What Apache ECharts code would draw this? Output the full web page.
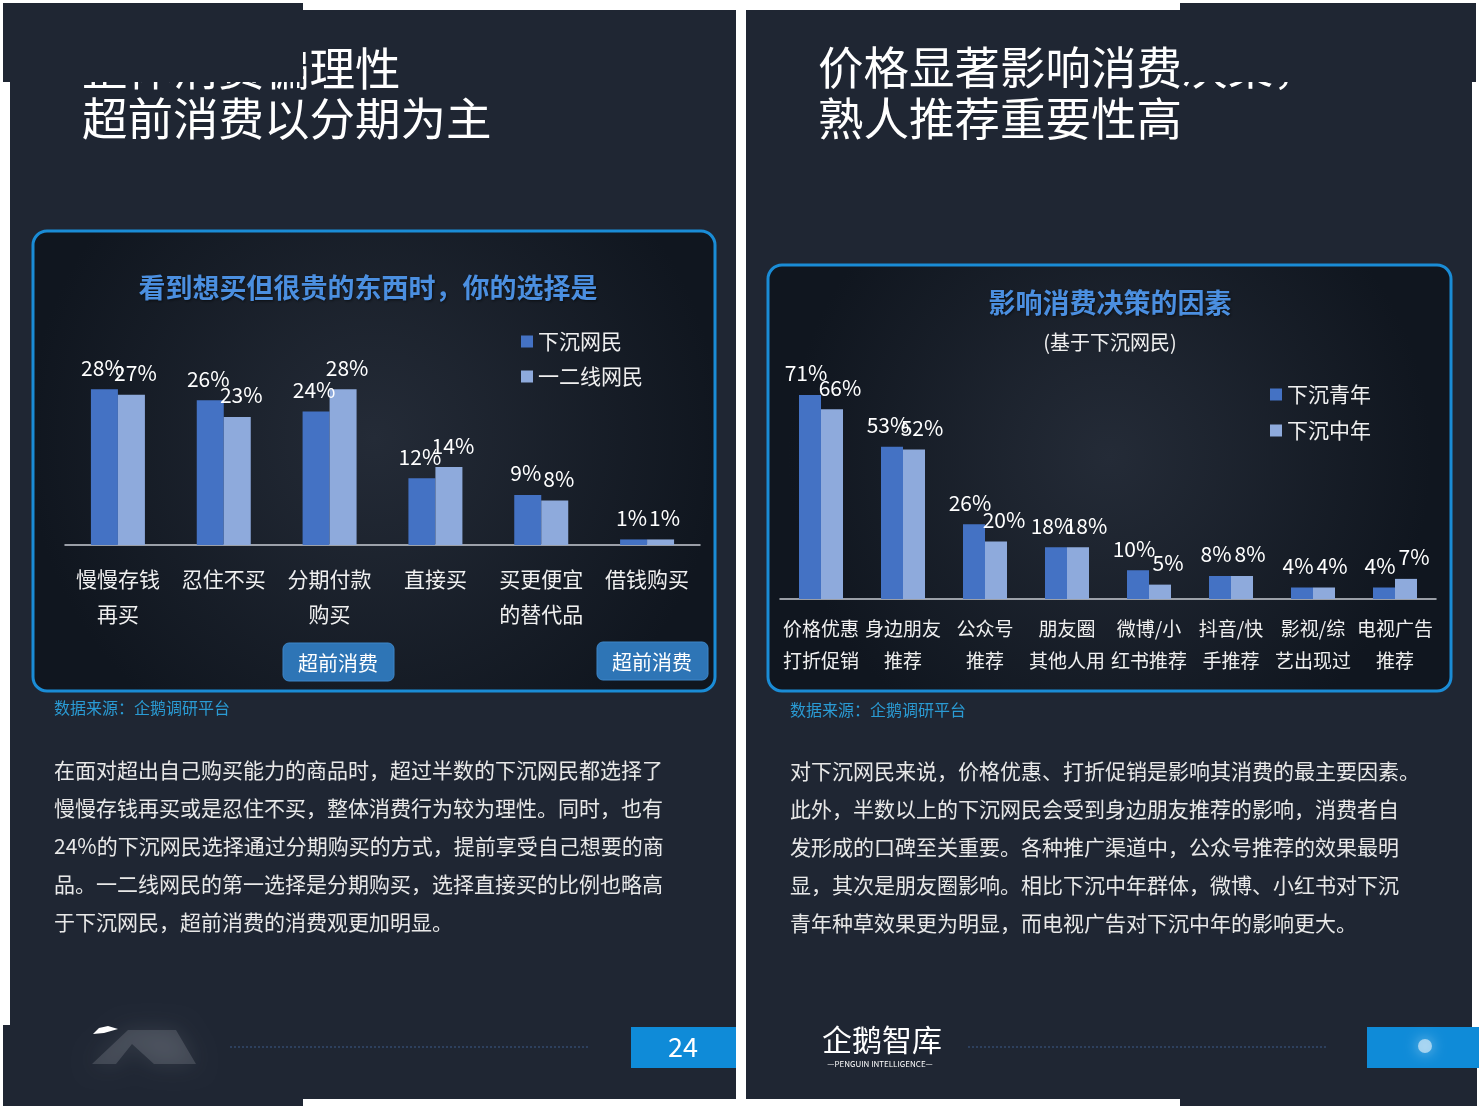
<!DOCTYPE html>
<html><head><meta charset="utf-8">
<script src="https://cdn.jsdelivr.net/npm/echarts/dist/echarts.min.js"></script>
<style>html,body{margin:0;padding:0;background:#fff}#c{width:1482px;height:1109px}</style>
</head><body><div id="c"></div>
<script>
// ---- data ----
const leftCategories = ['慢慢存钱\n再买', '忍住不买', '分期付款\n购买', '直接买', '买更便宜\n的替代品', '借钱购买'];
const leftSeriesNames = ['下沉网民', '一二线网民'];
const leftLowerTier = [28, 26, 24, 12, 9, 1];
const leftUpperTier = [27, 23, 28, 14, 8, 1];

const rightCategories = ['价格优惠\n打折促销', '身边朋友\n推荐', '公众号\n推荐', '朋友圈\n其他人用', '微博/小\n红书推荐', '抖音/快\n手推荐', '影视/综\n艺出现过', '电视广告\n推荐'];
const rightSeriesNames = ['下沉青年', '下沉中年'];
const rightYoung = [71, 53, 26, 18, 10, 8, 4, 4];
const rightMiddle = [66, 52, 20, 18, 5, 8, 4, 7];

// ---- texts ----
const leftTitle = ['整体消费偏理性', '超前消费以分期为主'];
const rightTitle = ['价格显著影响消费决策，', '熟人推荐重要性高'];
const leftChartTitle = '看到想买但很贵的东西时，你的选择是';
const rightChartTitle = '影响消费决策的因素';
const rightChartSubtitle = '(基于下沉网民)';
const sourceText = '数据来源：企鹅调研平台';
const badgeText = '超前消费';
const leftParagraph = [
  '在面对超出自己购买能力的商品时，超过半数的下沉网民都选择了',
  '慢慢存钱再买或是忍住不买，整体消费行为较为理性。同时，也有',
  '24%的下沉网民选择通过分期购买的方式，提前享受自己想要的商',
  '品。一二线网民的第一选择是分期购买，选择直接买的比例也略高',
  '于下沉网民，超前消费的消费观更加明显。'
];
const rightParagraph = [
  '对下沉网民来说，价格优惠、打折促销是影响其消费的最主要因素。',
  '此外，半数以上的下沉网民会受到身边朋友推荐的影响，消费者自',
  '发形成的口碑至关重要。各种推广渠道中，公众号推荐的效果最明',
  '显，其次是朋友圈影响。相比下沉中年群体，微博、小红书对下沉',
  '青年种草效果更为明显，而电视广告对下沉中年的影响更大。'
];
const pageNumber = '24';

const FONT = '"Noto Sans CJK SC", "Noto Sans", sans-serif';
const PANEL = '#1f2633';
const DARK_BAR = '#4472c4';
const LIGHT_BAR = '#8eaadc';

function txt(text, x, y, size, color, opts) {
  opts = opts || {};
  return {
    type: 'text', z: opts.z || 20,
    style: Object.assign({
      text: text, x: x, y: y,
      font: (opts.weight || 'normal') + ' ' + size + 'px ' + FONT,
      fill: color,
      align: opts.align || 'left', textAlign: opts.align || 'left',
      verticalAlign: opts.valign || 'middle', textVerticalAlign: opts.valign || 'middle'
    }, opts.style || {})
  };
}
function rect(x, y, w, h, fill, opts) {
  opts = opts || {};
  return {
    type: 'rect', z: opts.z != null ? opts.z : -20,
    shape: { x: x, y: y, width: w, height: h, r: opts.r || 0 },
    style: Object.assign({ fill: fill }, opts.style || {})
  };
}
const boxFill = {
  type: 'radial', x: 0.5, y: 0.45, r: 0.75,
  colorStops: [{ offset: 0, color: '#242b37' }, { offset: 1, color: '#10161f' }]
};
const titleShadow = { textShadowColor: 'rgba(0,0,0,0.6)', textShadowBlur: 3, textShadowOffsetX: 1, textShadowOffsetY: 1 };

const graphics = [
  // panels
  rect(10, 10, 726, 1089, PANEL),
  rect(3, 1025, 300, 81, PANEL, { z: -19 }),
  rect(746, 10, 726, 1089, PANEL),
  rect(1180, 1030, 297, 76, PANEL, { z: -19 }),
  // chart boxes
  rect(33, 231, 682, 460, boxFill, { z: -10, r: 14, style: { stroke: '#1a8cd6', lineWidth: 3 } }),
  rect(768, 265, 683, 426, boxFill, { z: -10, r: 14, style: { stroke: '#1a8cd6', lineWidth: 3 } }),
  // main titles
  txt(leftTitle[0], 82, 69, 45.5, '#ffffff', { z: 30 }),
  txt(leftTitle[1], 82, 119, 45.5, '#ffffff', { z: 30 }),
  txt(rightTitle[0], 818, 68, 45.5, '#ffffff', { z: 30 }),
  txt(rightTitle[1], 818, 119, 45.5, '#ffffff', { z: 30 }),
  // covering blocks
  rect(3, 3, 300, 79, PANEL, { z: 50 }),
  rect(1180, 3, 296, 79, PANEL, { z: 50 }),
  // chart titles
  txt(leftChartTitle, 368, 288, 27, '#4b8fe0', { weight: 'bold', align: 'center', style: titleShadow }),
  txt(rightChartTitle, 1110, 303, 27, '#4b8fe0', { weight: 'bold', align: 'center', style: titleShadow }),
  txt(rightChartSubtitle, 1110, 342, 20, '#f0f0f0', { align: 'center' }),
  // badges
  rect(283, 643, 111, 38, '#2e75b6', { z: 10, r: 6, style: { stroke: '#3c86c8', lineWidth: 1 } }),
  txt(badgeText, 338, 663, 20, '#ffffff', { align: 'center' }),
  rect(597, 642, 111, 38, '#2e75b6', { z: 10, r: 6, style: { stroke: '#3c86c8', lineWidth: 1 } }),
  txt(badgeText, 652, 662, 20, '#ffffff', { align: 'center' }),
  // source
  txt(sourceText, 54, 708, 16, '#2a9bd4'),
  txt(sourceText, 790, 710, 16, '#2a9bd4'),
  // paragraphs
  txt(leftParagraph.join('\n'), 54, 751, 21, '#e8e8e8', { valign: 'top', style: { lineHeight: 38 } }),
  txt(rightParagraph.join('\n'), 790, 752, 21, '#e8e8e8', { valign: 'top', style: { lineHeight: 38 } }),
  // footer left (blurred logo)
  { type: 'polygon', z: 5, shape: { points: [[128, 1030], [176, 1030], [196, 1064], [154, 1064], [132, 1044], [116, 1064], [92, 1064]] },
    style: { fill: 'rgba(170,172,180,0.22)', shadowBlur: 22, shadowColor: 'rgba(170,172,180,0.7)' } },
  { type: 'polygon', z: 6, shape: { points: [[93, 1034], [99, 1028], [108, 1026], [118, 1029], [104, 1033]] }, style: { fill: '#ffffff' } },
  { type: 'line', z: 5, shape: { x1: 230, y1: 1047, x2: 590, y2: 1047 }, style: { stroke: '#3c5b8a', lineWidth: 1, lineDash: [2, 2] } },
  rect(631, 1027, 105, 41, '#0f8bd8', { z: 5 }),
  txt(pageNumber, 683, 1047, 27, '#ffffff', { align: 'center' }),
  // footer right
  txt('企鹅智库', 822, 1040, 30, '#ffffff'),
  txt('—PENGUIN INTELLIGENCE—', 880, 1064, 8, '#ffffff', { align: 'center' }),
  { type: 'line', z: 5, shape: { x1: 968, y1: 1047, x2: 1327, y2: 1047 }, style: { stroke: '#3c5b8a', lineWidth: 1, lineDash: [2, 2] } },
  rect(1367, 1027, 112, 41, '#0f8bd8', { z: 5 }),
  { type: 'circle', z: 6, shape: { cx: 1425, cy: 1046, r: 7 }, style: { fill: 'rgba(255,255,255,0.55)', shadowBlur: 14, shadowColor: 'rgba(255,255,255,0.9)' } }
];

const axisLabelLeft = { color: '#f0f0f0', fontSize: 21, lineHeight: 35, margin: 17, interval: 0, fontFamily: FONT };
const axisLabelRight = { color: '#f0f0f0', fontSize: 19, lineHeight: 32, margin: 14, interval: 0, fontFamily: FONT };
const axisLineStyle = { show: true, lineStyle: { color: '#c8ccd4', width: 1.5 } };
function barLabel(offX) {
  return { show: true, position: 'top', distance: 11, offset: [offX, 0], color: '#ffffff', fontSize: 21, fontFamily: FONT, formatter: '{c}%' };
}

const option = {
  backgroundColor: '#ffffff',
  animation: false,
  textStyle: { fontFamily: FONT },
  graphic: { elements: graphics },
  legend: [
    { data: leftSeriesNames, orient: 'vertical', left: 521, top: 331, padding: 0, itemWidth: 12, itemHeight: 12, itemGap: 14, icon: 'rect',
      textStyle: { color: '#f0f0f0', fontSize: 21, fontFamily: FONT } },
    { data: rightSeriesNames, orient: 'vertical', left: 1270, top: 384, padding: 0, itemWidth: 12, itemHeight: 12, itemGap: 15, icon: 'rect',
      textStyle: { color: '#f0f0f0', fontSize: 21, fontFamily: FONT } }
  ],
  grid: [
    { left: 65, top: 378, width: 635, height: 167 },
    { left: 780, top: 369, width: 656, height: 230 }
  ],
  xAxis: [
    { type: 'category', gridIndex: 0, data: leftCategories, axisTick: { show: false }, axisLine: axisLineStyle, axisLabel: axisLabelLeft },
    { type: 'category', gridIndex: 1, data: rightCategories, axisTick: { show: false }, axisLine: axisLineStyle, axisLabel: axisLabelRight }
  ],
  yAxis: [
    { type: 'value', gridIndex: 0, min: 0, max: 30, show: false, splitLine: { show: false } },
    { type: 'value', gridIndex: 1, min: 0, max: 80, show: false, splitLine: { show: false } }
  ],
  series: [
    { name: leftSeriesNames[0], type: 'bar', xAxisIndex: 0, yAxisIndex: 0, data: leftLowerTier, barWidth: 27, barGap: '0%', itemStyle: { color: DARK_BAR }, label: barLabel(-2) },
    { name: leftSeriesNames[1], type: 'bar', xAxisIndex: 0, yAxisIndex: 0, data: leftUpperTier, barWidth: 27, barGap: '0%', itemStyle: { color: LIGHT_BAR }, label: barLabel(4) },
    { name: rightSeriesNames[0], type: 'bar', xAxisIndex: 1, yAxisIndex: 1, data: rightYoung, barWidth: 22, barGap: '0%', itemStyle: { color: DARK_BAR }, label: barLabel(-4) },
    { name: rightSeriesNames[1], type: 'bar', xAxisIndex: 1, yAxisIndex: 1, data: rightMiddle, barWidth: 22, barGap: '0%', itemStyle: { color: LIGHT_BAR }, label: barLabel(8) }
  ]
};

const chart = echarts.init(document.getElementById('c'), null, { renderer: 'canvas' });
chart.setOption(option);
</script>
</body></html>
